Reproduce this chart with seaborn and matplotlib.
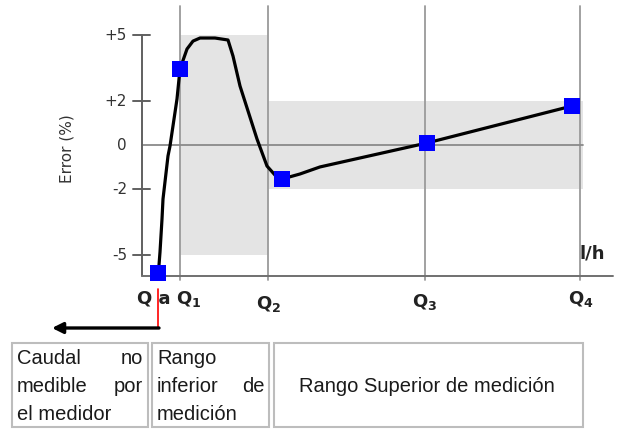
import matplotlib
matplotlib.use("Agg")
import matplotlib.pyplot as plt
from matplotlib.patches import Rectangle
import seaborn as sns
import pandas as pd

# ---------------- data ----------------
flow_curve = [1.6, 1.7, 1.8, 2.0, 2.1, 2.6, 2.8, 3.5, 3.8, 4.5, 5.1, 5.8, 7.3, 8.6,
              9.1, 9.8, 11.5, 12.5, 13.3, 14.0, 15.8, 17.8, 28.5, 43.0]
error_curve = [-5.86, -5.48, -4.89, -3.39, -2.48, -0.52, -0.07, 2.07, 3.43, 4.34, 4.70,
               4.84, 4.84, 4.75, 4.02, 2.66, 0.25, -0.98, -1.39, -1.57, -1.34, -1.02, 0.07, 1.75]
marker_flow = [1.6, 3.8, 14.0, 28.5, 43.0]
marker_error = [-5.86, 3.43, -1.57, 0.07, 1.75]

q_names = ["Q1", "Q2", "Q3", "Q4"]
q_flow = [3.8, 12.6, 28.3, 43.8]
qa_flow = 1.6

ytick_values = [5, 2, 0, -2, -5]
ytick_labels = ["+5", "+2", "0", "-2", "-5"]

lower_band = (5, -5)     # Q1..Q2
upper_band = (2, -2)     # Q2..end
band_end = 44.1

box_texts = ["Caudal no medible por el medidor",
             "Rango inferior de medición",
             "Rango Superior de medición"]

# ---------------- layout helpers (pixel -> data) ----------------
W, H = 621, 435
def X(px):
    return (px - 142) / 10.0
def Y(py):
    return (145.5 - py) / 22.0

sns.set_style("white")
plt.rcParams["font.family"] = ["DejaVu Sans"]

fig = plt.figure(figsize=(W / 100, H / 100), dpi=100)
ax = fig.add_axes([0, 0, 1, 1])
ax.set_xlim(X(0), X(W))
ax.set_ylim(Y(H), Y(0))
ax.axis("off")

# gray bands
ax.add_patch(Rectangle((q_flow[0], lower_band[1]), q_flow[1] - q_flow[0],
                       lower_band[0] - lower_band[1], color="#e4e4e4", lw=0, zorder=0))
ax.add_patch(Rectangle((q_flow[1], upper_band[1]), band_end - q_flow[1],
                       upper_band[0] - upper_band[1], color="#e4e4e4", lw=0, zorder=0))

# vertical grid lines at Q1..Q4
for q in q_flow:
    ax.plot([q, q], [Y(7), Y(281)], color="#9a9a9a", lw=1.3, zorder=1)

# zero line
ax.plot([0, band_end], [0, 0], color="#8a8a8a", lw=1.3, zorder=1)

# axes lines
ax.plot([0, 0], [5, Y(277)], color="#606060", lw=1.4, zorder=2)
ax.plot([0, X(613)], [Y(277), Y(277)], color="#707070", lw=1.4, zorder=2)

# y ticks
for v, lab in zip(ytick_values, ytick_labels):
    if v != 0:
        ax.plot([X(133), X(150)], [v, v], color="#606060", lw=1.4, zorder=2)
    ax.text(X(127), v, lab, ha="right", va="center", fontsize=11, color="#333333")

ax.text(X(67), Y(149), "Error (%)", rotation=90, ha="center", va="center",
        fontsize=11, color="#333333")

# curve + markers
df_curve = pd.DataFrame({"flow": flow_curve, "error": error_curve})
sns.lineplot(data=df_curve, x="flow", y="error", sort=False, estimator=None,
             color="black", lw=2.3, ax=ax, zorder=4)
df_mark = pd.DataFrame({"flow": marker_flow, "error": marker_error})
sns.scatterplot(data=df_mark, x="flow", y="error", marker="s", s=135,
                color="#0000ff", edgecolor="none", linewidth=0, ax=ax, zorder=5)
ax.set_xlim(X(0), X(W))
ax.set_ylim(Y(H), Y(0))
ax.axis("off")

# Q labels
ax.text(X(137), Y(304), "Q a", ha="left", va="baseline", fontsize=13,
        fontweight="bold", color="#222222")
q_label_px = [(188.5, 304), (268.5, 309), (424.5, 307), (580.5, 304)]
for name, (px, py) in zip(q_names, q_label_px):
    ax.text(X(px), Y(py), r"$\mathbf{Q}_{\mathbf{%s}}$" % name[1], ha="center",
            va="baseline", fontsize=13, color="#222222")

ax.text(X(592), Y(253), "l/h", ha="center", va="center", fontsize=13,
        fontweight="bold", color="#222222")

# red connector + black arrow
ax.plot([qa_flow, qa_flow], [Y(290), Y(329)], color="#ff0000", lw=1.2, zorder=3)
ax.annotate("", xy=(X(52), Y(329)), xytext=(X(159), Y(329)),
            arrowprops=dict(arrowstyle="-|>", color="black", lw=2.4,
                            mutation_scale=16, shrinkA=0, shrinkB=0))

# boxes below
boxes_px = [(12, 148), (152, 269), (274, 583)]
for (x0, x1) in boxes_px:
    ax.add_patch(Rectangle((X(x0), Y(428)), X(x1) - X(x0), Y(344) - Y(428),
                           fill=False, edgecolor="#bdbdbd", lw=1.5, zorder=2))

tk = dict(fontsize=14.5, family="Liberation Sans", color="#1a1a1a", va="baseline")
# box 1 (justified)
ax.text(X(17), Y(364), "Caudal", ha="left", **tk)
ax.text(X(143), Y(364), "no", ha="right", **tk)
ax.text(X(17), Y(392), "medible", ha="left", **tk)
ax.text(X(143), Y(392), "por", ha="right", **tk)
ax.text(X(17), Y(420), "el medidor", ha="left", **tk)
# box 2
ax.text(X(157), Y(364), "Rango", ha="left", **tk)
ax.text(X(157), Y(392), "inferior", ha="left", **tk)
ax.text(X(265), Y(392), "de", ha="right", **tk)
ax.text(X(157), Y(420), "medición", ha="left", **tk)
# box 3
ax.text(X(427), Y(392), box_texts[2], ha="center", **tk)

fig.savefig("out.png", dpi=100)
